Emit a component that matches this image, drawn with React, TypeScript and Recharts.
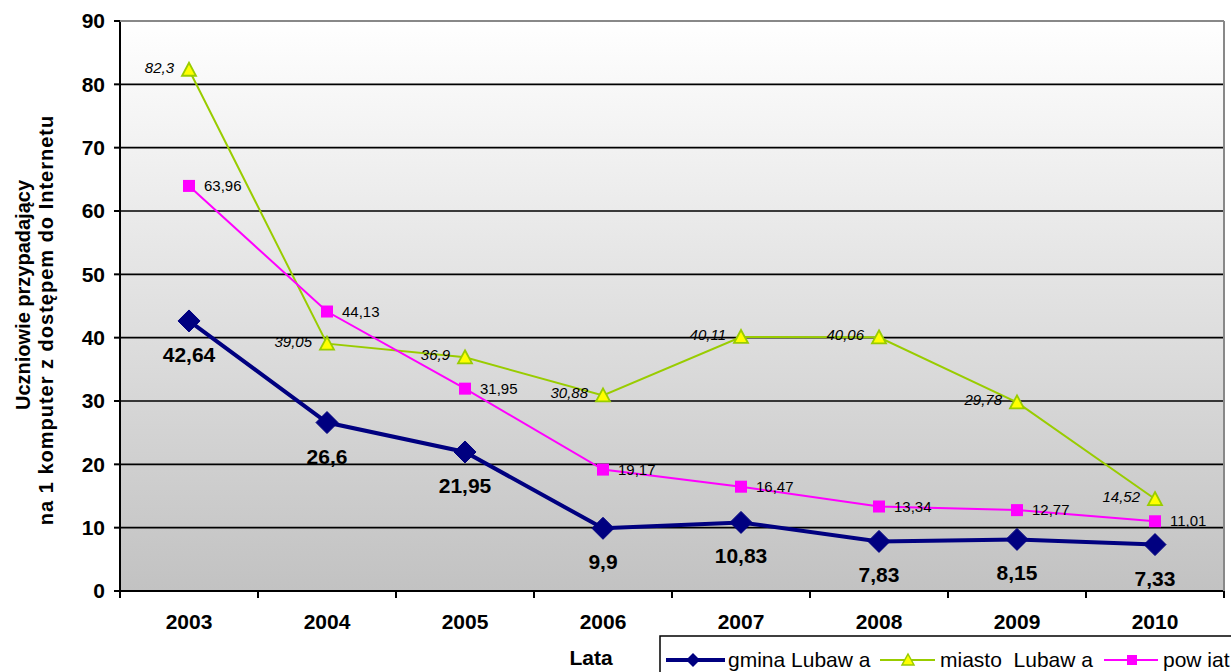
import React from 'react';
import { LineChart, Line, XAxis, YAxis, CartesianGrid, LabelList } from 'recharts';

const years = ['2003', '2004', '2005', '2006', '2007', '2008', '2009', '2010'];
const gmina = [42.64, 26.6, 21.95, 9.9, 10.83, 7.83, 8.15, 7.33];
const miasto = [82.3, 39.05, 36.9, 30.88, 40.11, 40.06, 29.78, 14.52];
const powiat = [63.96, 44.13, 31.95, 19.17, 16.47, 13.34, 12.77, 11.01];
const yTicks = [0, 10, 20, 30, 40, 50, 60, 70, 80, 90];
const seriesNames = ['gmina Lubaw a', 'miasto  Lubaw a', 'pow iat'];
const axisTitleLines = ['Uczniowie przypadający', 'na 1 komputer z dostępem do Internetu'];
const xAxisTitle = 'Lata';

const data = years.map((y, i) => ({ year: y, gmina: gmina[i], miasto: miasto[i], powiat: powiat[i] }));

const W = 1231;
const H = 672;
const PLOT_L = 120;
const PLOT_R = 1224;
const PLOT_T = 21;
const PLOT_B = 591;
const HALF_BAND = (PLOT_R - PLOT_L) / years.length / 2;
const FONT = '"Liberation Sans", Arial, sans-serif';

const C_GMINA = '#000080';
const C_MIASTO = '#99cc00';
const C_MIASTO_FILL = '#ffff00';
const C_POWIAT = '#ff00ff';

const fmt = (v: number) => String(v).replace('.', ',');

const Diamond = (props: any) => {
  const { cx, cy } = props;
  if (cx == null || cy == null) return null;
  const s = 11;
  return <polygon points={`${cx},${cy - s} ${cx + s},${cy} ${cx},${cy + s} ${cx - s},${cy}`} fill={C_GMINA} stroke={C_GMINA} strokeWidth={1} />;
};
const Triangle = (props: any) => {
  const { cx, cy } = props;
  if (cx == null || cy == null) return null;
  return <polygon points={`${cx},${cy - 7} ${cx + 7},${cy + 6} ${cx - 7},${cy + 6}`} fill={C_MIASTO_FILL} stroke={C_MIASTO} strokeWidth={1.8} />;
};
const Square = (props: any) => {
  const { cx, cy } = props;
  if (cx == null || cy == null) return null;
  return <rect x={cx - 6} y={cy - 6} width={12} height={12} fill={C_POWIAT} />;
};

const GminaLabel = (p: any) => (
  <text x={p.x} y={p.y + 41} textAnchor="middle" fontFamily={FONT} fontSize={21} fontWeight="bold" fill="#000">{fmt(p.value)}</text>
);
const MiastoLabel = (p: any) => (
  <text x={p.x - 15} y={p.y + 3} textAnchor="end" fontFamily={FONT} fontSize={15} fontStyle="italic" fill="#000">{fmt(p.value)}</text>
);
const PowiatLabel = (p: any) => (
  <text x={p.x + 15} y={p.y + 5} textAnchor="start" fontFamily={FONT} fontSize={15} fill="#000">{fmt(p.value)}</text>
);

const XTick = (p: any) => {
  const { x, payload, index } = p;
  return (
    <g>
      <line x1={x - HALF_BAND} x2={x - HALF_BAND} y1={PLOT_B} y2={PLOT_B + 7} stroke="#000" strokeWidth={2} />
      {index === years.length - 1 && (
        <line x1={x + HALF_BAND} x2={x + HALF_BAND} y1={PLOT_B} y2={PLOT_B + 7} stroke="#000" strokeWidth={2} />
      )}
      <text x={x} y={629} textAnchor="middle" fontFamily={FONT} fontSize={21} fontWeight="bold" fill="#000">{payload.value}</text>
    </g>
  );
};

export default function App() {
  return (
    <div style={{ position: 'absolute', left: 0, top: 0, width: W, height: H, background: '#fff' }}>
      <LineChart width={W} height={H} data={data} margin={{ top: PLOT_T, right: W - PLOT_R, left: 0, bottom: 51 }}>
        <defs>
          <linearGradient id="bgGrad" x1="0" y1="0" x2="0" y2="1">
            <stop offset="0%" stopColor="#ffffff" />
            <stop offset="100%" stopColor="#c2c2c2" />
          </linearGradient>
        </defs>
        <CartesianGrid vertical={false} stroke="#000" strokeWidth={1.6} fill="url(#bgGrad)" fillOpacity={1} />
        <XAxis
          dataKey="year"
          height={30}
          padding={{ left: HALF_BAND, right: HALF_BAND }}
          axisLine={{ stroke: '#000', strokeWidth: 2 }}
          tickLine={false}
          tick={<XTick />}
          interval={0}
        />
        <YAxis
          width={PLOT_L}
          domain={[0, 90]}
          ticks={yTicks}
          interval={0}
          axisLine={{ stroke: '#000', strokeWidth: 2 }}
          tickLine={{ stroke: '#000', strokeWidth: 2 }}
          tickSize={6}
          tickMargin={9}
          tick={{ fill: '#000', fontSize: 21, fontWeight: 'bold', fontFamily: FONT }}
        />
        <Line dataKey="gmina" stroke={C_GMINA} strokeWidth={4} dot={<Diamond />} activeDot={false} isAnimationActive={false}>
          <LabelList dataKey="gmina" content={<GminaLabel />} />
        </Line>
        <Line dataKey="miasto" stroke={C_MIASTO} strokeWidth={2} dot={<Triangle />} activeDot={false} isAnimationActive={false}>
          <LabelList dataKey="miasto" content={<MiastoLabel />} />
        </Line>
        <Line dataKey="powiat" stroke={C_POWIAT} strokeWidth={2} dot={<Square />} activeDot={false} isAnimationActive={false}>
          <LabelList dataKey="powiat" content={<PowiatLabel />} />
        </Line>
      </LineChart>
      <svg width={W} height={H} style={{ position: 'absolute', left: 0, top: 0, pointerEvents: 'none' }}>
        <line x1={PLOT_L} x2={PLOT_R} y1={PLOT_T} y2={PLOT_T} stroke="#888" strokeWidth={2} />
        <line x1={PLOT_R} x2={PLOT_R} y1={PLOT_T} y2={PLOT_B} stroke="#888" strokeWidth={2} />
        <text transform="translate(30,295) rotate(-90)" textAnchor="middle" fontFamily={FONT} fontSize={20} fontWeight="bold" fill="#000">{axisTitleLines[0]}</text>
        <text transform="translate(53,320) rotate(-90)" textAnchor="middle" fontFamily={FONT} fontSize={20} fontWeight="bold" letterSpacing={1} fill="#000">{axisTitleLines[1]}</text>
        <text x={591} y={665} textAnchor="middle" fontFamily={FONT} fontSize={21} fontWeight="bold" fill="#000">{xAxisTitle}</text>
        <rect x={660} y={636} width={620} height={100} fill="#fff" stroke="#000" strokeWidth={1.5} />
        <line x1={666} x2={725} y1={660} y2={660} stroke={C_GMINA} strokeWidth={4} />
        <polygon points="693,653 700,660 693,667 686,660" fill={C_GMINA} />
        <text x={728} y={667} fontFamily={FONT} fontSize={21} fill="#000" style={{ whiteSpace: 'pre' }}>{seriesNames[0]}</text>
        <line x1={880} x2={935} y1={660} y2={660} stroke={C_MIASTO} strokeWidth={2} />
        <polygon points="908,654 914,665 902,665" fill={C_MIASTO_FILL} stroke={C_MIASTO} strokeWidth={1.5} />
        <text x={940} y={667} fontFamily={FONT} fontSize={21} fill="#000" style={{ whiteSpace: 'pre' }}>{seriesNames[1]}</text>
        <line x1={1104} x2={1158} y1={660} y2={660} stroke={C_POWIAT} strokeWidth={2} />
        <rect x={1127} y={655} width={10} height={10} fill={C_POWIAT} />
        <text x={1163} y={667} fontFamily={FONT} fontSize={21} fill="#000" style={{ whiteSpace: 'pre' }}>{seriesNames[2]}</text>
      </svg>
    </div>
  );
}
